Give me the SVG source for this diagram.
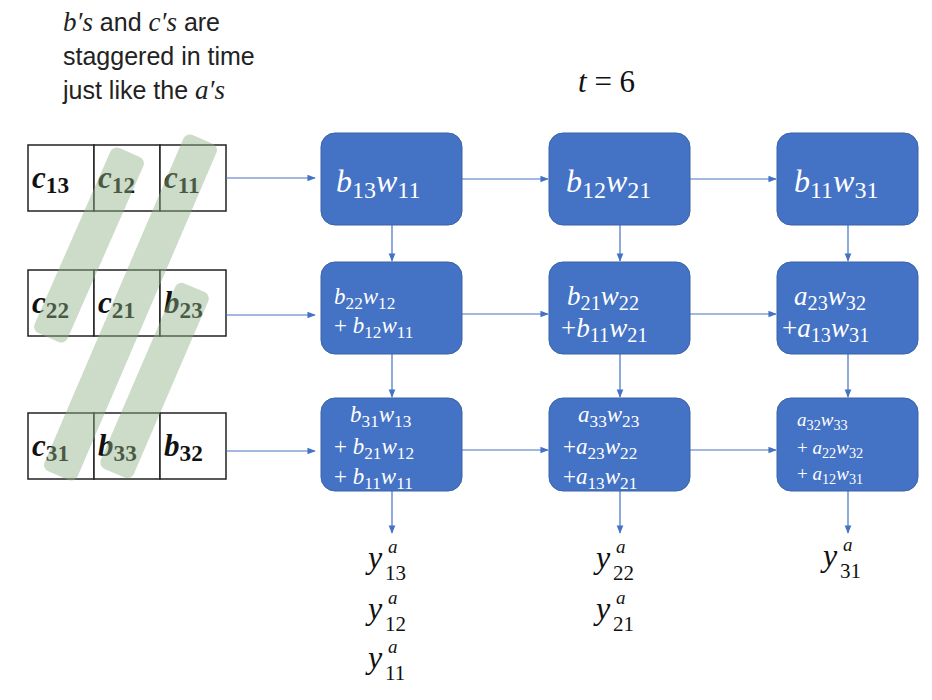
<svg xmlns="http://www.w3.org/2000/svg" width="932" height="700" viewBox="0 0 932 700">
<defs>
<marker id="ah" viewBox="0 0 10 10" refX="9" refY="5" markerWidth="7" markerHeight="7" orient="auto"><path d="M0,1 L10,5 L0,9 z" fill="#4472C4"/></marker>
<style>
.cell{fill:#fff;stroke:#222;stroke-width:1.5}
.ct{font-family:"Liberation Serif",serif;font-weight:bold;font-style:italic;font-size:31px;fill:#111}
.box{fill:#4472C4;stroke:#3a62a8;stroke-width:1}
.bt{font-family:"Liberation Serif",serif;font-style:italic;fill:#fff}
.sub{font-size:75%;font-style:normal}
.c{stroke:#4472C4;stroke-width:1.2;fill:none;marker-end:url(#ah)}
.band{fill:#8fb285;opacity:0.45}
.lbl{font-family:"Liberation Sans",sans-serif;font-size:25px;fill:#222}
.m{font-family:"Liberation Serif",serif;font-style:italic;font-size:27px}
.y{font-family:"Liberation Serif",serif;font-style:italic;font-size:32px;fill:#111}
.ys{font-family:"Liberation Serif",serif;font-style:italic;font-size:19px;fill:#111}
.yn{font-family:"Liberation Serif",serif;font-size:21px;fill:#111}
</style>
</defs>
<g id="caption">
<text class="lbl" x="63" y="31"><tspan class="m">b′s</tspan> and <tspan class="m">c′s</tspan> are</text>
<text class="lbl" x="63" y="65">staggered in time</text>
<text class="lbl" x="63" y="99">just like the <tspan class="m">a′s</tspan></text>
<text x="578" y="92" font-size="31" fill="#111" font-family="Liberation Serif,serif"><tspan font-style="italic">t</tspan> = 6</text>
</g>
<g id="row1cells">
<rect class="cell" x="28" y="145" width="66" height="66"/><rect class="cell" x="94" y="145" width="66" height="66"/><rect class="cell" x="160" y="145" width="66" height="66"/>
<text class="ct" x="32" y="188">c<tspan class="sub" dy="5">13</tspan></text>
<text class="ct" x="98" y="188">c<tspan class="sub" dy="5">12</tspan></text>
<text class="ct" x="164" y="188">c<tspan class="sub" dy="5">11</tspan></text>
</g>
<g id="row2cells">
<rect class="cell" x="28" y="270" width="66" height="66"/><rect class="cell" x="94" y="270" width="66" height="66"/><rect class="cell" x="160" y="270" width="66" height="66"/>
<text class="ct" x="32" y="313">c<tspan class="sub" dy="5">22</tspan></text>
<text class="ct" x="98" y="313">c<tspan class="sub" dy="5">21</tspan></text>
<text class="ct" x="164" y="313">b<tspan class="sub" dy="5">23</tspan></text>
</g>
<g id="row3cells">
<rect class="cell" x="28" y="413" width="66" height="66"/><rect class="cell" x="94" y="413" width="66" height="66"/><rect class="cell" x="160" y="413" width="66" height="66"/>
<text class="ct" x="32" y="456">c<tspan class="sub" dy="5">31</tspan></text>
<text class="ct" x="98" y="456">b<tspan class="sub" dy="5">33</tspan></text>
<text class="ct" x="164" y="456">b<tspan class="sub" dy="5">32</tspan></text>
</g>
<g id="bands">
<rect class="band" x="-18" y="-101" width="36" height="202" rx="7" transform="translate(89,245) rotate(23.7)"/>
<rect class="band" x="-18" y="-183" width="36" height="366" rx="7" transform="translate(130.5,307.5) rotate(23.2)"/>
<rect class="band" x="-18" y="-101" width="36" height="202" rx="7" transform="translate(154.5,380.5) rotate(23.3)"/>
</g>
<g id="connectors">
<line class="c" x1="226" y1="178" x2="315" y2="178"/>
<line class="c" x1="226" y1="315" x2="315" y2="315"/>
<line class="c" x1="226" y1="451" x2="315" y2="451"/>
<line class="c" x1="462" y1="179" x2="548" y2="179"/>
<line class="c" x1="690" y1="179" x2="776" y2="179"/>
<line class="c" x1="462" y1="314" x2="548" y2="314"/>
<line class="c" x1="690" y1="314" x2="776" y2="314"/>
<line class="c" x1="462" y1="450" x2="548" y2="450"/>
<line class="c" x1="690" y1="450" x2="776" y2="450"/>
<line class="c" x1="392" y1="225" x2="392" y2="261"/>
<line class="c" x1="620" y1="225" x2="620" y2="261"/>
<line class="c" x1="848" y1="225" x2="848" y2="261"/>
<line class="c" x1="392" y1="354" x2="392" y2="397"/>
<line class="c" x1="620" y1="354" x2="620" y2="397"/>
<line class="c" x1="848" y1="354" x2="848" y2="397"/>
<line class="c" x1="392" y1="491" x2="392" y2="533"/>
<line class="c" x1="620" y1="491" x2="620" y2="533"/>
<line class="c" x1="848" y1="491" x2="848" y2="533"/>
</g>
<g id="n11"><rect class="box" x="321" y="133" width="141" height="92" rx="14"/>
<text class="bt" x="336" y="192" font-size="32">b<tspan class="sub" dy="6">13</tspan><tspan dy="-6">w</tspan><tspan class="sub" dy="6">11</tspan></text></g>
<g id="n12"><rect class="box" x="549" y="133" width="141" height="92" rx="14"/>
<text class="bt" x="566" y="192" font-size="32">b<tspan class="sub" dy="6">12</tspan><tspan dy="-6">w</tspan><tspan class="sub" dy="6">21</tspan></text></g>
<g id="n13"><rect class="box" x="777" y="133" width="141" height="92" rx="14"/>
<text class="bt" x="794" y="192" font-size="32">b<tspan class="sub" dy="6">11</tspan><tspan dy="-6">w</tspan><tspan class="sub" dy="6">31</tspan></text></g>
<g id="n21"><rect class="box" x="321" y="262" width="141" height="92" rx="14"/>
<text class="bt" x="334" y="304" font-size="23">b<tspan class="sub" dy="5">22</tspan><tspan dy="-5">w</tspan><tspan class="sub" dy="5">12</tspan></text>
<text class="bt" x="334" y="333" font-size="23"><tspan font-style="normal">+ </tspan>b<tspan class="sub" dy="5">12</tspan><tspan dy="-5">w</tspan><tspan class="sub" dy="5">11</tspan></text></g>
<g id="n22"><rect class="box" x="549" y="262" width="141" height="92" rx="14"/>
<text class="bt" x="567" y="305" font-size="27">b<tspan class="sub" dy="5">21</tspan><tspan dy="-5">w</tspan><tspan class="sub" dy="5">22</tspan></text>
<text class="bt" x="561" y="337" font-size="27"><tspan font-style="normal">+</tspan>b<tspan class="sub" dy="5">11</tspan><tspan dy="-5">w</tspan><tspan class="sub" dy="5">21</tspan></text></g>
<g id="n23"><rect class="box" x="777" y="262" width="141" height="92" rx="14"/>
<text class="bt" x="794" y="305" font-size="27">a<tspan class="sub" dy="5">23</tspan><tspan dy="-5">w</tspan><tspan class="sub" dy="5">32</tspan></text>
<text class="bt" x="782" y="337" font-size="27"><tspan font-style="normal">+</tspan>a<tspan class="sub" dy="5">13</tspan><tspan dy="-5">w</tspan><tspan class="sub" dy="5">31</tspan></text></g>
<g id="n31"><rect class="box" x="321" y="398" width="141" height="93" rx="14"/>
<text class="bt" x="350" y="422" font-size="23">b<tspan class="sub" dy="5">31</tspan><tspan dy="-5">w</tspan><tspan class="sub" dy="5">13</tspan></text>
<text class="bt" x="334" y="454" font-size="23"><tspan font-style="normal">+ </tspan>b<tspan class="sub" dy="5">21</tspan><tspan dy="-5">w</tspan><tspan class="sub" dy="5">12</tspan></text>
<text class="bt" x="334" y="484" font-size="23"><tspan font-style="normal">+ </tspan>b<tspan class="sub" dy="5">11</tspan><tspan dy="-5">w</tspan><tspan class="sub" dy="5">11</tspan></text></g>
<g id="n32"><rect class="box" x="549" y="398" width="141" height="93" rx="14"/>
<text class="bt" x="578" y="422" font-size="23">a<tspan class="sub" dy="5">33</tspan><tspan dy="-5">w</tspan><tspan class="sub" dy="5">23</tspan></text>
<text class="bt" x="563" y="454" font-size="23"><tspan font-style="normal">+</tspan>a<tspan class="sub" dy="5">23</tspan><tspan dy="-5">w</tspan><tspan class="sub" dy="5">22</tspan></text>
<text class="bt" x="563" y="484" font-size="23"><tspan font-style="normal">+</tspan>a<tspan class="sub" dy="5">13</tspan><tspan dy="-5">w</tspan><tspan class="sub" dy="5">21</tspan></text></g>
<g id="n33"><rect class="box" x="777" y="398" width="141" height="93" rx="14"/>
<text class="bt" x="797" y="426" font-size="19">a<tspan class="sub" dy="4">32</tspan><tspan dy="-4">w</tspan><tspan class="sub" dy="4">33</tspan></text>
<text class="bt" x="797" y="454" font-size="19"><tspan font-style="normal">+ </tspan>a<tspan class="sub" dy="4">22</tspan><tspan dy="-4">w</tspan><tspan class="sub" dy="4">32</tspan></text>
<text class="bt" x="797" y="480" font-size="19"><tspan font-style="normal">+ </tspan>a<tspan class="sub" dy="4">12</tspan><tspan dy="-4">w</tspan><tspan class="sub" dy="4">31</tspan></text></g>
<g id="outputs">
<text class="y" x="368" y="568">y</text><text class="ys" x="388" y="553">a</text><text class="yn" x="385" y="580">13</text>
<text class="y" x="368" y="619">y</text><text class="ys" x="388" y="604">a</text><text class="yn" x="385" y="631">12</text>
<text class="y" x="368" y="668">y</text><text class="ys" x="388" y="653">a</text><text class="yn" x="385" y="680">11</text>
<text class="y" x="596" y="568">y</text><text class="ys" x="616" y="553">a</text><text class="yn" x="613" y="580">22</text>
<text class="y" x="596" y="619">y</text><text class="ys" x="616" y="604">a</text><text class="yn" x="613" y="631">21</text>
<text class="y" x="823" y="566">y</text><text class="ys" x="843" y="551">a</text><text class="yn" x="840" y="578">31</text>
</g>
</svg>
